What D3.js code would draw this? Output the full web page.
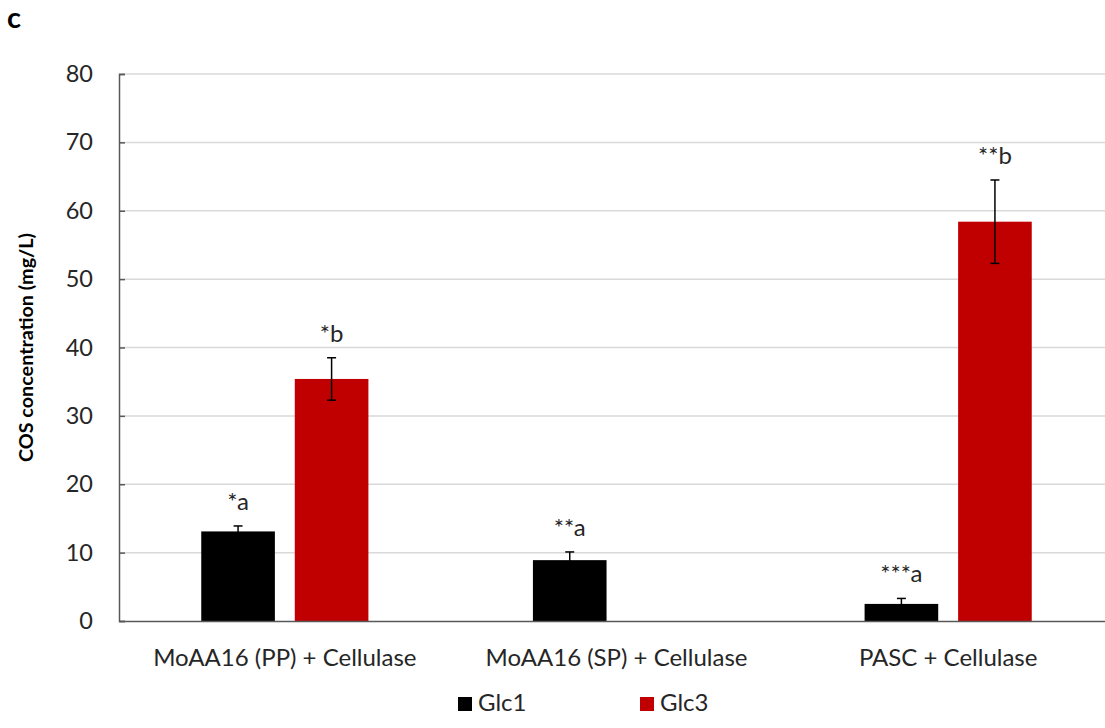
<!DOCTYPE html>
<html>
<head>
<meta charset="utf-8">
<script src="https://cdn.jsdelivr.net/npm/d3@7"></script>
<style>
  html, body { margin: 0; padding: 0; background: #fff; }
  svg { display: block; font-family: Lato, "Open Sans", sans-serif; }
</style>
</head>
<body>
<svg id="chart" width="1105" height="728"></svg>
<script>
// Treatments on the x axis
const categories = ["MoAA16 (PP) + Cellulase", "MoAA16 (SP) + Cellulase", "PASC + Cellulase"];
const seriesNames = ["Glc1", "Glc3"];
const seriesColors = ["#000000", "#c00000"];

// COS concentration (mg/L), mean and error per treatment; null = not detected
const glc1Values = [13.1, 8.9, 2.5];
const glc1Errors = [0.8, 1.2, 0.8];
const glc3Values = [35.4, null, 58.4];
const glc3Errors = [3.1, null, 6.1];

// Significance letters above each bar
const glc1Labels = ["*a", "**a", "***a"];
const glc3Labels = ["*b", null, "**b"];

const yTicks = [0, 10, 20, 30, 40, 50, 60, 70, 80];

const svg = d3.select("#chart");
const plotLeft = 119, plotRight = 1114, plotTop = 74, plotBottom = 621;
const textColor = "#262626";

const x0 = d3.scaleBand().domain(categories).range([plotLeft, plotRight]).padding(0);
const y = d3.scaleLinear().domain([0, 80]).range([plotBottom, plotTop]);

// gridlines
svg.append("g")
  .selectAll("line")
  .data(yTicks.filter(d => d > 0))
  .join("line")
  .attr("x1", plotLeft).attr("x2", plotRight)
  .attr("y1", d => y(d)).attr("y2", d => y(d))
  .attr("stroke", "#d9d9d9").attr("stroke-width", 1.5);

// bar geometry inside each band
const band = x0.bandwidth();
const barW = band * 0.222;
const gap = band * 0.06;
const offsets = [-gap / 2 - barW, gap / 2];

const series = [
  { name: seriesNames[0], color: seriesColors[0], values: glc1Values, errors: glc1Errors, labels: glc1Labels },
  { name: seriesNames[1], color: seriesColors[1], values: glc3Values, errors: glc3Errors, labels: glc3Labels }
];

const rows = [];
series.forEach((s, si) => {
  categories.forEach((c, ci) => {
    if (s.values[ci] == null) return;
    rows.push({ si, c, v: s.values[ci], e: s.errors[ci], label: s.labels[ci], color: s.color });
  });
});

const cx = d => x0(d.c) + band / 2 + offsets[d.si] + barW / 2;

svg.append("g")
  .selectAll("rect")
  .data(rows)
  .join("rect")
  .attr("x", d => cx(d) - barW / 2)
  .attr("width", barW)
  .attr("y", d => y(d.v))
  .attr("height", d => y(0) - y(d.v))
  .attr("fill", d => d.color);

// error bars
const eg = svg.append("g").attr("stroke", "#000").attr("stroke-width", 1.5);
rows.forEach(d => {
  eg.append("line").attr("x1", cx(d)).attr("x2", cx(d)).attr("y1", y(d.v - d.e)).attr("y2", y(d.v + d.e));
  [d.v - d.e, d.v + d.e].forEach(v => {
    eg.append("line").attr("x1", cx(d) - 4.5).attr("x2", cx(d) + 4.5).attr("y1", y(v)).attr("y2", y(v));
  });
});

// significance labels
svg.append("g")
  .selectAll("text")
  .data(rows.filter(d => d.label))
  .join("text")
  .attr("x", d => cx(d))
  .attr("y", d => y(d.v + d.e) - 16)
  .attr("text-anchor", "middle")
  .attr("font-size", 24)
  .attr("fill", textColor)
  .text(d => d.label);

// y axis
const yAxis = svg.append("g")
  .attr("transform", `translate(${plotLeft},0)`)
  .call(d3.axisLeft(y).tickValues(yTicks).tickSize(-6).tickPadding(26));
yAxis.select(".domain").attr("stroke", "#595959").attr("stroke-width", 1.5);
yAxis.selectAll(".tick line").attr("stroke", "#595959").attr("stroke-width", 1.5);
yAxis.selectAll(".tick text").attr("font-size", 23.5).attr("fill", textColor).attr("font-family", "Lato, 'Open Sans', sans-serif");

// x axis
const xAxis = svg.append("g")
  .attr("transform", `translate(0,${plotBottom})`)
  .call(d3.axisBottom(x0).tickSize(0).tickPadding(28));
xAxis.select(".domain").attr("stroke", "#595959").attr("stroke-width", 1.5);
xAxis.selectAll(".tick text").attr("font-size", 24).attr("fill", textColor).attr("font-family", "Lato, 'Open Sans', sans-serif");

// axis title
svg.append("text")
  .attr("transform", `translate(33,${(plotTop + plotBottom) / 2}) rotate(-90)`)
  .attr("text-anchor", "middle")
  .attr("font-size", 19.8)
  .attr("font-weight", "bold")
  .attr("fill", "#000")
  .text("COS concentration (mg/L)");

// panel letter
svg.append("text")
  .attr("x", 7).attr("y", 28)
  .attr("font-size", 29)
  .attr("font-weight", "bold")
  .text("c");

// legend
const legendX = [458, 640];
const lg = svg.append("g");
series.forEach((s, i) => {
  lg.append("rect").attr("x", legendX[i]).attr("y", 697).attr("width", 14).attr("height", 14).attr("fill", s.color);
  lg.append("text").attr("x", legendX[i] + 20).attr("y", 711)
    .attr("font-size", 24).attr("fill", textColor).text(s.name);
});
</script>
</body>
</html>
